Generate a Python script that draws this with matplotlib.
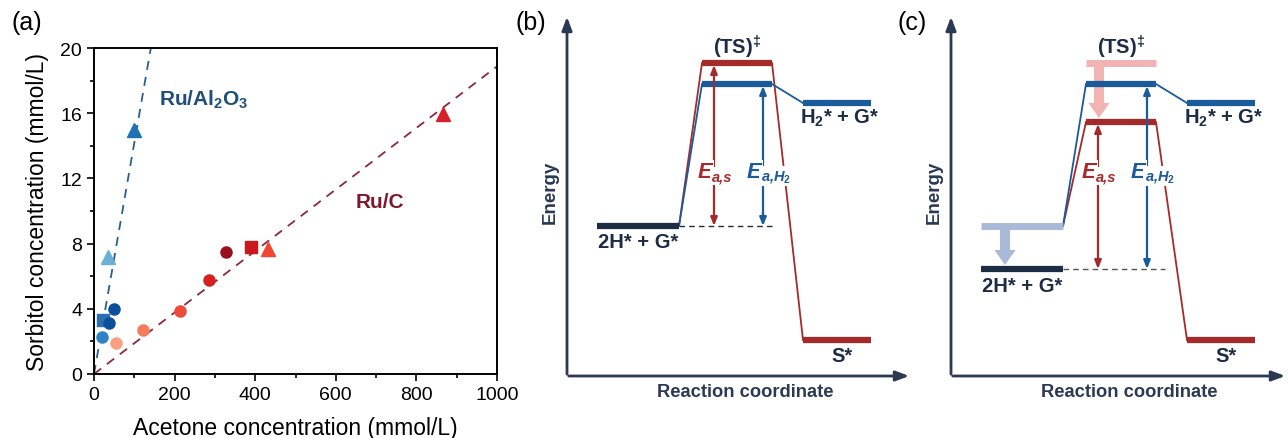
import numpy as np
import matplotlib
matplotlib.use("Agg")
import matplotlib.pyplot as plt
from matplotlib.patches import FancyArrow

plt.rcParams['font.family'] = ['Liberation Sans', 'DejaVu Sans']
plt.rcParams['mathtext.fontset'] = 'custom'
plt.rcParams['mathtext.rm'] = 'Liberation Sans'
plt.rcParams['mathtext.bf'] = 'Liberation Sans:bold'
plt.rcParams['mathtext.it'] = 'Liberation Sans:italic'

# ---- panel (a) data: acetone vs sorbitol (mmol/L)
al_x = [100, 35, 49, 22, 36, 19]
al_y = [15.0, 7.2, 3.97, 3.3, 3.15, 2.3]
al_mark = ['^', '^', 'o', 's', 'o', 'o']
al_col = ['#2171b5', '#6baed6', '#0b4f9c', '#2a6db0', '#0d4e9a', '#3182c4']

c_x = [54, 122, 214, 286, 327, 389, 433, 867]
c_y = [1.92, 2.7, 3.85, 5.77, 7.47, 7.82, 7.64, 15.97]
c_mark = ['o', 'o', 'o', 'o', 'o', 's', '^', '^']
c_col = ['#fca082', '#f77b5c', '#ef4a3a', '#d62020', '#990f1e', '#cb181d', '#f14632', '#d6202a']

al_slope = 20 / 141.0
c_slope = 18.87 / 1000.0

# ---- panels (b)/(c) data: energy levels (arbitrary units) at three reaction-coordinate steps
step_span = [(30, 112), (135, 205), (236, 304)]
b_levels = {'2H': 150, 'TS_s': 313, 'TS_H2': 292, 'H2': 273, 'S': 36}
c_levels = {'2H_old': 150, '2H': 107, 'TS_old': 313, 'TS_s': 254, 'TS_H2': 292, 'H2': 273, 'S': 36}

navy = '#1d2c45'
blue = '#1b5b9b'
red = '#a52a2a'
lightblue = '#a9bad9'
pink = '#f2b3b3'

W, H = 1288, 439
fig = plt.figure(figsize=(W / 100, H / 100), dpi=100)

# ---------------- panel (a)
ax = fig.add_axes([94 / W, (H - 375) / H, 403 / W, 326 / H])
xs = np.array([0, 1000])
ax.plot(xs, al_slope * xs, ls=(0, (5, 4)), color='#2a5f8f', lw=1.3, zorder=1)
ax.plot(xs, c_slope * xs, ls=(0, (5, 4)), color='#8b2a3e', lw=1.3, zorder=1)
for x, y, m, c in zip(al_x, al_y, al_mark, al_col):
    ax.plot(x, y, marker=m, color=c, ms=10.5 if m == '^' else 8, ls='none', zorder=3)
for x, y, m, c in zip(c_x, c_y, c_mark, c_col):
    ax.plot(x, y, marker=m, color=c, ms=10.5 if m == '^' else 8, ls='none', zorder=3)
ax.set_xlim(0, 1000)
ax.set_ylim(0, 20)
ax.set_xticks([0, 200, 400, 600, 800, 1000])
ax.set_xticks([100, 300, 500, 700, 900], minor=True)
ax.set_yticks([0, 4, 8, 12, 16, 20])
ax.set_yticks([2, 6, 10, 14, 18], minor=True)
ax.tick_params(which='major', direction='out', length=5, width=1.2, labelsize=14, colors='black')
ax.tick_params(which='minor', direction='out', length=3, width=1.2)
for s in ax.spines.values():
    s.set_linewidth(1.4)
ax.set_xlabel('Acetone concentration (mmol/L)', fontsize=16.5)
ax.set_ylabel('Sorbitol concentration (mmol/L)', fontsize=16.5)
ax.yaxis.set_label_coords(-0.112, 0.5)
ax.xaxis.set_label_coords(0.5, -0.128)
ax.text(162, 16.9, r'Ru/Al$_\mathbf{2}$O$_\mathbf{3}$', color='#1f4e79', fontsize=15,
        fontweight='bold', va='center')
ax.text(648, 10.6, 'Ru/C', color='#7f1a2c', fontsize=15, fontweight='bold', va='center')
fig.text(27 / W, 1 - 23 / H, '(a)', fontsize=18, ha='center', va='center')


def energy_axes(left_px, width_px):
    a = fig.add_axes([left_px / W, (H - 377) / H, width_px / W, 362 / H])
    a.set_xlim(0, width_px)
    a.set_ylim(0, 362)
    a.axis('off')
    a.annotate('', xy=(0, 362), xytext=(0, -1),
               arrowprops=dict(arrowstyle='-|>,head_length=0.8,head_width=0.3', color='#2b3a52', lw=2),
               annotation_clip=False)
    a.annotate('', xy=(width_px, 0), xytext=(-1, 0),
               arrowprops=dict(arrowstyle='-|>,head_length=0.8,head_width=0.3', color='#2b3a52', lw=2),
               annotation_clip=False)
    a.text(-17, 185, 'Energy', rotation=90, ha='center', va='center', fontsize=13.5,
           fontweight='bold', color='#2b3a52')
    a.text(178, -16, 'Reaction coordinate', ha='center', va='center', fontsize=13.2,
           fontweight='bold', color='#2b3a52')
    return a


def level(a, step, e, color, lw=4.5, z=3):
    x0, x1 = step_span[step]
    a.plot([x0, x1], [e, e], color=color, lw=lw, solid_capstyle='butt', zorder=z)


def connect(a, s0, e0, s1, e1, color):
    a.plot([step_span[s0][1], step_span[s1][0]], [e0, e1], color=color, lw=1.3, zorder=2)


def double_arrow(a, x, e0, e1, color):
    a.annotate('', xy=(x, e1), xytext=(x, e0),
               arrowprops=dict(arrowstyle='<|-|>,head_length=0.5,head_width=0.2', color=color,
                               lw=1.6, shrinkA=0, shrinkB=0), zorder=4)


def e_label(a, x, y, sub, color):
    a.text(x - 2, y, 'E', ha='right', va='center', fontsize=16, fontweight='bold',
           fontstyle='italic', color=color, zorder=6,
           bbox=dict(facecolor='white', edgecolor='none', pad=1.5))
    a.text(x - 2, y - 4, sub, ha='left', va='center', fontsize=10.5, fontweight='bold',
           fontstyle='italic', color=color, zorder=6,
           bbox=dict(facecolor='white', edgecolor='none', pad=1.5))


def state_labels(a, y2h):
    a.text(170, 330, r'(TS)$^{\mathbf{‡}}$', ha='center', va='center', fontsize=14.5,
           fontweight='bold', color=navy)
    a.text(273, 259, r'H$_\mathbf{2}$* + G*', ha='center', va='center', fontsize=14.5,
           fontweight='bold', color=navy)
    a.text(71, y2h, '2H* + G*', ha='center', va='center', fontsize=14.5,
           fontweight='bold', color=navy)
    a.text(275, 20, 'S*', ha='center', va='center', fontsize=14.5,
           fontweight='bold', color=navy)


# ---------------- panel (b)
axb = energy_axes(567, 345)
lv = b_levels
axb.plot([step_span[0][1], 206], [lv['2H'], lv['2H']], ls=(0, (4, 3)), color=navy, lw=1, zorder=1)
connect(axb, 0, lv['2H'], 1, lv['TS_s'], red)
connect(axb, 1, lv['TS_s'], 2, lv['S'], red)
connect(axb, 0, lv['2H'], 1, lv['TS_H2'], blue)
connect(axb, 1, lv['TS_H2'], 2, lv['H2'], blue)
level(axb, 0, lv['2H'], navy)
level(axb, 1, lv['TS_s'], red)
level(axb, 1, lv['TS_H2'], blue)
level(axb, 2, lv['H2'], blue)
level(axb, 2, lv['S'], red)
double_arrow(axb, 147, lv['2H'], lv['TS_s'] - 2, red)
double_arrow(axb, 196, lv['2H'], lv['TS_H2'] - 2, blue)
e_label(axb, 147, 204, 'a,s', red)
e_label(axb, 196, 204, r'a,H$_\mathbf{2}$', blue)
state_labels(axb, 135)
fig.text(531 / W, 1 - 23 / H, '(b)', fontsize=18, ha='center', va='center')

# ---------------- panel (c)
axc = energy_axes(951, 337)
lv = c_levels
axc.plot([step_span[0][1], 214], [lv['2H'], lv['2H']], ls=(0, (4, 3)), color='#555555', lw=1, zorder=1)
connect(axc, 0, lv['2H_old'], 1, lv['TS_s'], red)
connect(axc, 1, lv['TS_s'], 2, lv['S'], red)
connect(axc, 0, lv['2H_old'], 1, lv['TS_H2'], blue)
connect(axc, 1, lv['TS_H2'], 2, lv['H2'], blue)
level(axc, 0, lv['2H_old'], lightblue, lw=5)
level(axc, 0, lv['2H'], navy)
level(axc, 1, lv['TS_old'], pink, lw=5, z=2)
level(axc, 1, lv['TS_H2'], blue)
level(axc, 1, lv['TS_s'], red)
level(axc, 2, lv['H2'], blue)
level(axc, 2, lv['S'], red)
axc.add_patch(FancyArrow(54, lv['2H_old'], 0, lv['2H'] - lv['2H_old'] + 4, width=10,
                         head_width=21, head_length=15, length_includes_head=True,
                         color=lightblue, lw=0, zorder=2))
axc.add_patch(FancyArrow(148, lv['TS_old'], 0, lv['TS_s'] - lv['TS_old'] + 4, width=10,
                         head_width=21, head_length=15, length_includes_head=True,
                         color=pink, lw=0, zorder=2))
double_arrow(axc, 147, lv['2H'], lv['TS_s'] - 2, red)
double_arrow(axc, 196, lv['2H'], lv['TS_H2'] - 2, blue)
e_label(axc, 147, 204, 'a,s', red)
e_label(axc, 196, 204, r'a,H$_\mathbf{2}$', blue)
state_labels(axc, 90)
fig.text(912 / W, 1 - 23 / H, '(c)', fontsize=18, ha='center', va='center')

fig.savefig('out.png', dpi=100)
